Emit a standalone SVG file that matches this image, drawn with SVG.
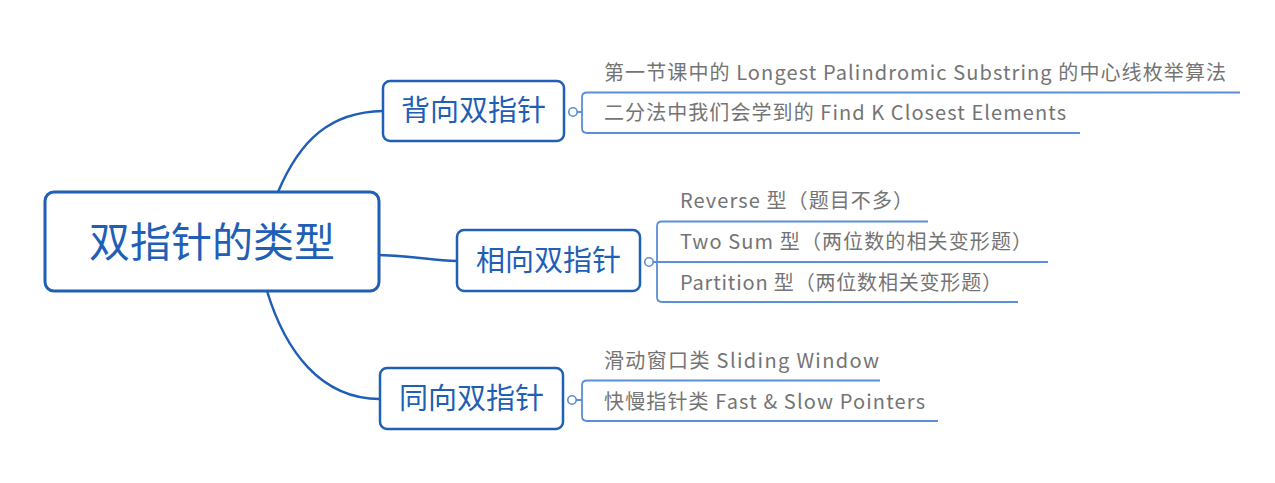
<svg xmlns="http://www.w3.org/2000/svg" width="1275" height="483" viewBox="0 0 1275 483">
<style>
.box{fill:#fff;stroke:#1f5fb5;stroke-width:2.5}
.root{stroke-width:3}
.conn{fill:none;stroke:#1f5fb5;stroke-width:2.5}
.br{fill:none;stroke:#5a8fd6;stroke-width:1.8}
.dot{fill:#fff;stroke:#5a8fd6;stroke-width:1.6}
.t{font-family:"Noto Sans CJK SC","Noto Sans",sans-serif;fill:#1f5fb5;text-anchor:middle}
.leaf{font-family:"Noto Sans CJK SC","Noto Sans",sans-serif;fill:#747474;font-size:20px}
</style>
<rect width="1275" height="483" fill="#fff"/>
<g id="connectors">
<path class="conn" d="M278,192 C300,140 330,112 383,111"/>
<path class="conn" d="M378,255 C420,256 430,261 457,261"/>
<path class="conn" d="M267,291 C285,350 320,399 380,399"/>
<g id="bracket-back">
<circle class="dot" cx="573" cy="112" r="4.2"/>
<path class="br" d="M577,112 H582 M1240,92.5 H587 Q582,92.5 582,97.5 V128 Q582,133 587,133 H1080"/>
</g>
<g id="bracket-opp">
<circle class="dot" cx="649" cy="262" r="4.2"/>
<path class="br" d="M653,262 H1048 M928,221.5 H662 Q657,221.5 657,226.5 V297 Q657,302 662,302 H1018"/>
</g>
<g id="bracket-same">
<circle class="dot" cx="572" cy="400" r="4.2"/>
<path class="br" d="M576,400 H582 M880,380.5 H587 Q582,380.5 582,385.5 V416 Q582,421 587,421 H938"/>
</g>
</g>
<g id="root">
<rect class="box root" x="45" y="192" width="334" height="99" rx="9"/>
<text class="t" x="212" y="257" font-size="41">双指针的类型</text>
</g>
<g id="back">
<rect class="box" x="383" y="81" width="181" height="60" rx="7"/>
<text class="t" x="473.5" y="121" font-size="29">背向双指针</text>
</g>
<g id="opp">
<rect class="box" x="457" y="230" width="183" height="61" rx="7"/>
<text class="t" x="548.5" y="271" font-size="29">相向双指针</text>
</g>
<g id="same">
<rect class="box" x="380" y="368" width="183" height="61" rx="7"/>
<text class="t" x="471.5" y="409" font-size="29">同向双指针</text>
</g>
<g id="leaf-back-1"><text class="leaf" x="604" y="80" textLength="622" lengthAdjust="spacing">第一节课中的 Longest Palindromic Substring 的中心线枚举算法</text></g>
<g id="leaf-back-2"><text class="leaf" x="604" y="120" textLength="462" lengthAdjust="spacing">二分法中我们会学到的 Find K Closest Elements</text></g>
<g id="leaf-opp-1"><text class="leaf" x="680" y="208" textLength="233" lengthAdjust="spacing">Reverse 型（题目不多）</text></g>
<g id="leaf-opp-2"><text class="leaf" x="680" y="249" textLength="352" lengthAdjust="spacing">Two Sum 型（两位数的相关变形题）</text></g>
<g id="leaf-opp-3"><text class="leaf" x="680" y="290" textLength="322" lengthAdjust="spacing">Partition 型（两位数相关变形题）</text></g>
<g id="leaf-same-1"><text class="leaf" x="604" y="368" textLength="275" lengthAdjust="spacing">滑动窗口类 Sliding Window</text></g>
<g id="leaf-same-2"><text class="leaf" x="604" y="409" textLength="321" lengthAdjust="spacing">快慢指针类 Fast &amp; Slow Pointers</text></g>
</svg>
